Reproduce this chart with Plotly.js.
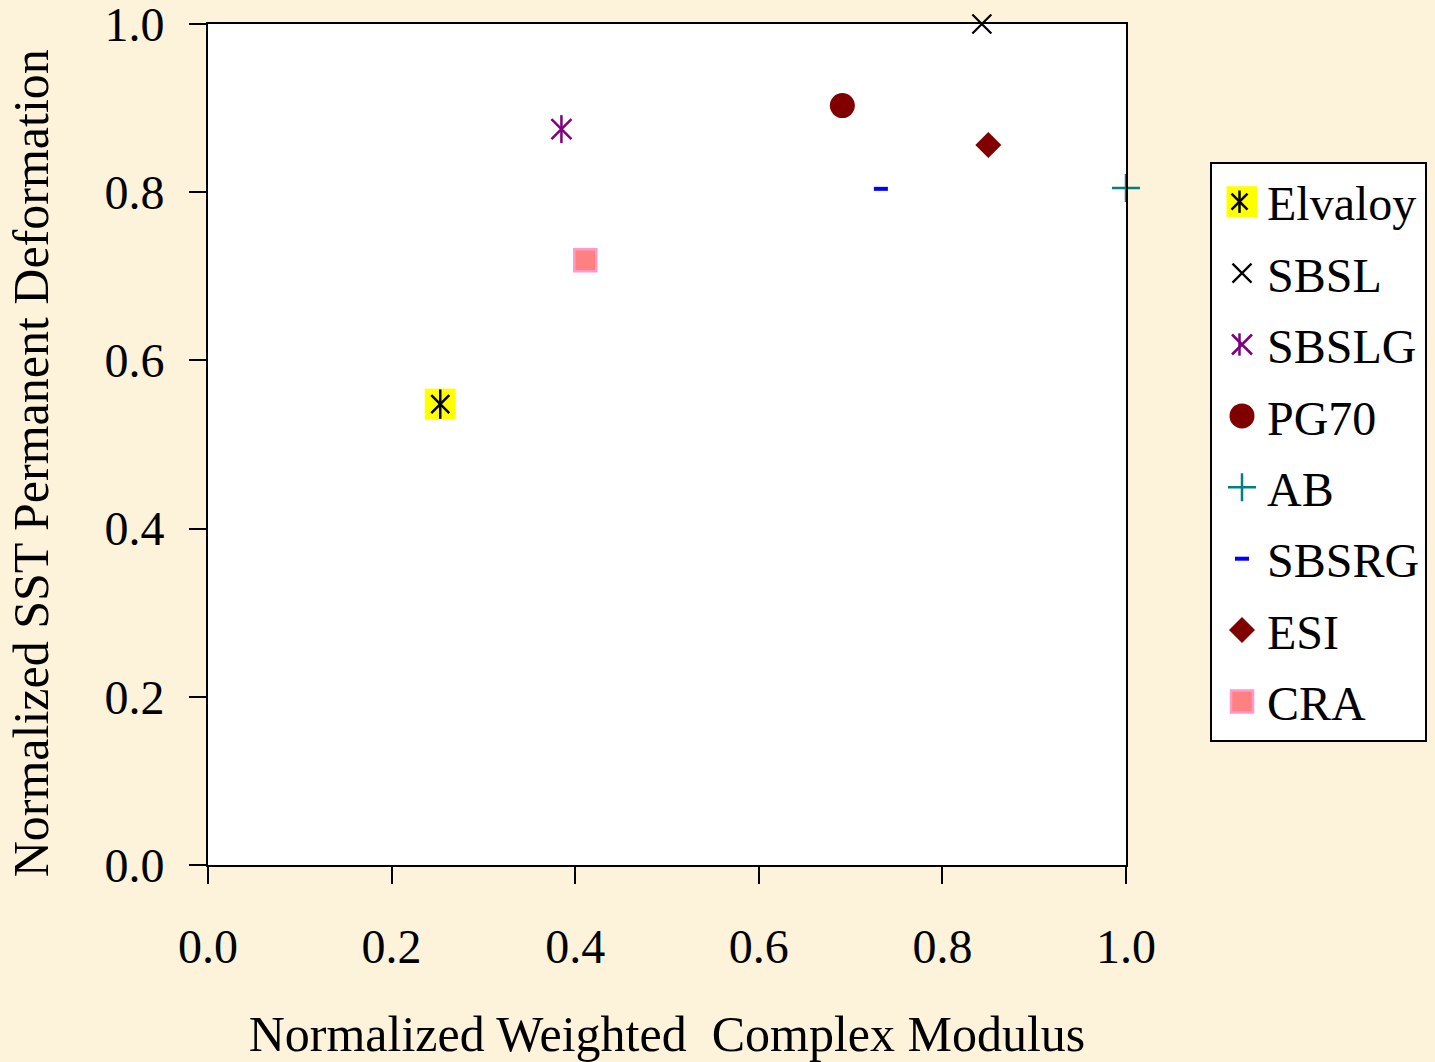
<!DOCTYPE html>
<html>
<head>
<meta charset="utf-8">
<script src="https://cdn.plot.ly/plotly-3.0.1.min.js"></script>
<style>
html,body{margin:0;padding:0;background:#FCF3DA;}
#chart{width:1435px;height:1062px;}
</style>
</head>
<body>
<div id="chart"></div>
<script>
// ---- data ----
const seriesNames = ['Elvaloy', 'SBSL', 'SBSLG', 'PG70', 'AB', 'SBSRG', 'ESI', 'CRA'];
const xValues = [0.253, 0.843, 0.385, 0.691, 1.0, 0.733, 0.850, 0.411];
const yValues = [0.548, 1.0, 0.875, 0.903, 0.805, 0.804, 0.856, 0.719];
const xTickVals = [0.0, 0.2, 0.4, 0.6, 0.8, 1.0];
const xTickText = ['0.0', '0.2', '0.4', '0.6', '0.8', '1.0'];
const yTickVals = [0.0, 0.2, 0.4, 0.6, 0.8, 1.0];
const yTickText = ['0.0', '0.2', '0.4', '0.6', '0.8', '1.0'];

const FONT = 'Liberation Serif, Times New Roman, serif';

function pt(i) { return { x: [xValues[i]], y: [yValues[i]] }; }
function empty() { return { x: [null], y: [null] }; }

const traces = [];
function add(src, name, legend, group, marker) {
  traces.push(Object.assign(src, { name: name, legend: legend, legendgroup: group, marker: marker }));
}
// main legend entries
add(pt(0), seriesNames[0], 'legend', 'a0', { symbol: 'square', size: 31, color: '#FFFF00', line: { width: 0 } });
add(pt(1), seriesNames[1], 'legend', 'a1', { symbol: 'x-thin-open', size: 19, color: '#000000', line: { width: 2.2, color: '#000000' } });
add(pt(2), seriesNames[2], 'legend', 'a2', { symbol: 'x-thin-open', size: 20, color: '#800080', line: { width: 2.5, color: '#800080' } });
add(pt(3), seriesNames[3], 'legend', 'a3', { symbol: 'circle', size: 25, color: '#800000', line: { width: 0 } });
add(pt(4), seriesNames[4], 'legend', 'a4', { symbol: 'cross-thin-open', size: 20, color: '#008080', line: { width: 2.5, color: '#008080' } });
add(pt(5), seriesNames[5], 'legend', 'a5', { symbol: 'line-ew-open', size: 10, color: '#0000FF', line: { width: 4, color: '#0000FF' } });
add(pt(6), seriesNames[6], 'legend', 'a6', { symbol: 'diamond', size: 20, color: '#800000', line: { width: 0 } });
add(pt(7), seriesNames[7], 'legend', 'a7', { symbol: 'square', size: 22, color: '#FF8080', line: { width: 2.5, color: '#FF99CC' } });
// overlay parts for the star-shaped markers (legend2 / legend3 sit exactly over legend)
add(pt(0), seriesNames[0], 'legend2', 'b0', { symbol: 'x-thin-open', size: 18, color: '#000000', line: { width: 2.5, color: '#000000' } });
add(empty(), seriesNames[1], 'legend2', 'b1', { symbol: 'circle', size: 10, color: 'rgba(0,0,0,0)', opacity: 0, line: { width: 0 } });
add(pt(2), seriesNames[2], 'legend2', 'b2', { symbol: 'line-ns-open', size: 20, color: '#800080', line: { width: 2.5, color: '#800080' } });
add(pt(0), seriesNames[0], 'legend3', 'c0', { symbol: 'line-ns-open', size: 21, color: '#000000', line: { width: 2.5, color: '#000000' } });

traces.forEach(t => { t.type = 'scatter'; t.mode = 'markers'; t.hoverinfo = 'skip'; t.cliponaxis = false; });

const legendBase = {
  xref: 'container', yref: 'container',
  x: 1210 / 1435, xanchor: 'left', y: 1 - 162 / 1062, yanchor: 'top',
  maxheight: 900,
  borderwidth: 2, itemwidth: 45, tracegroupgap: 6,
  font: { family: FONT, size: 48, color: '#000000' },
  itemclick: false, itemdoubleclick: false
};
const clearLegend = { bgcolor: 'rgba(0,0,0,0)', bordercolor: 'rgba(0,0,0,0)',
  font: { family: FONT, size: 48, color: 'rgba(0,0,0,0)' } };

const layout = {
  width: 1435, height: 1062,
  paper_bgcolor: '#FCF3DA',
  plot_bgcolor: '#FFFFFF',
  margin: { l: 208, r: 309, t: 24, b: 197, pad: 0, autoexpand: false },
  font: { family: FONT, size: 48, color: '#000000' },
  showlegend: true,
  legend: Object.assign({}, legendBase, { bgcolor: '#FFFFFF', bordercolor: '#000000' }),
  legend2: Object.assign({}, legendBase, clearLegend),
  legend3: Object.assign({}, legendBase, clearLegend),
  xaxis: {
    range: [0, 1], tickvals: xTickVals, ticktext: xTickText,
    showgrid: false, zeroline: false,
    showline: true, linecolor: '#000000', linewidth: 2, mirror: true,
    ticks: 'outside', ticklen: 17, tickwidth: 2, tickcolor: '#000000',
    ticklabelstandoff: 21, ticklabeloverflow: 'allow',
    tickfont: { family: FONT, size: 48, color: '#000000' },
    title: { text: 'Normalized Weighted\u00A0 Complex Modulus', font: { family: FONT, size: 50, color: '#000000' }, standoff: 47 }
  },
  yaxis: {
    range: [0, 1], tickvals: yTickVals, ticktext: yTickText,
    showgrid: false, zeroline: false,
    showline: true, linecolor: '#000000', linewidth: 2, mirror: true,
    ticks: 'outside', ticklen: 17, tickwidth: 2, tickcolor: '#000000',
    ticklabelstandoff: 15, ticklabeloverflow: 'allow',
    tickfont: { family: FONT, size: 48, color: '#000000' },
    title: { text: 'Normalized SST Permanent Deformation\u00A0\u00A0\u00A0\u200B', font: { family: FONT, size: 50, color: '#000000' }, standoff: 40 }
  }
};

Plotly.newPlot('chart', traces, layout, { staticPlot: true, displayModeBar: false }).then(gd => {
  // legend icons: draw at the same size as the plotted markers (Plotly caps them at 16px)
  gd.querySelectorAll('.legend g.traces').forEach(g => {
    const d = g.__data__;
    const tr = d && d[0] && d[0].trace;
    if (!tr) return;
    const s = Math.max(1, (tr.marker.size || 16) / 16);
    g.querySelectorAll('.legendpoints path.scatterpts').forEach(p => {
      p.setAttribute('transform', 'translate(30,0) scale(' + s + ')');
      p.style.vectorEffect = 'non-scaling-stroke';
    });
  });
});
</script>
</body>
</html>
